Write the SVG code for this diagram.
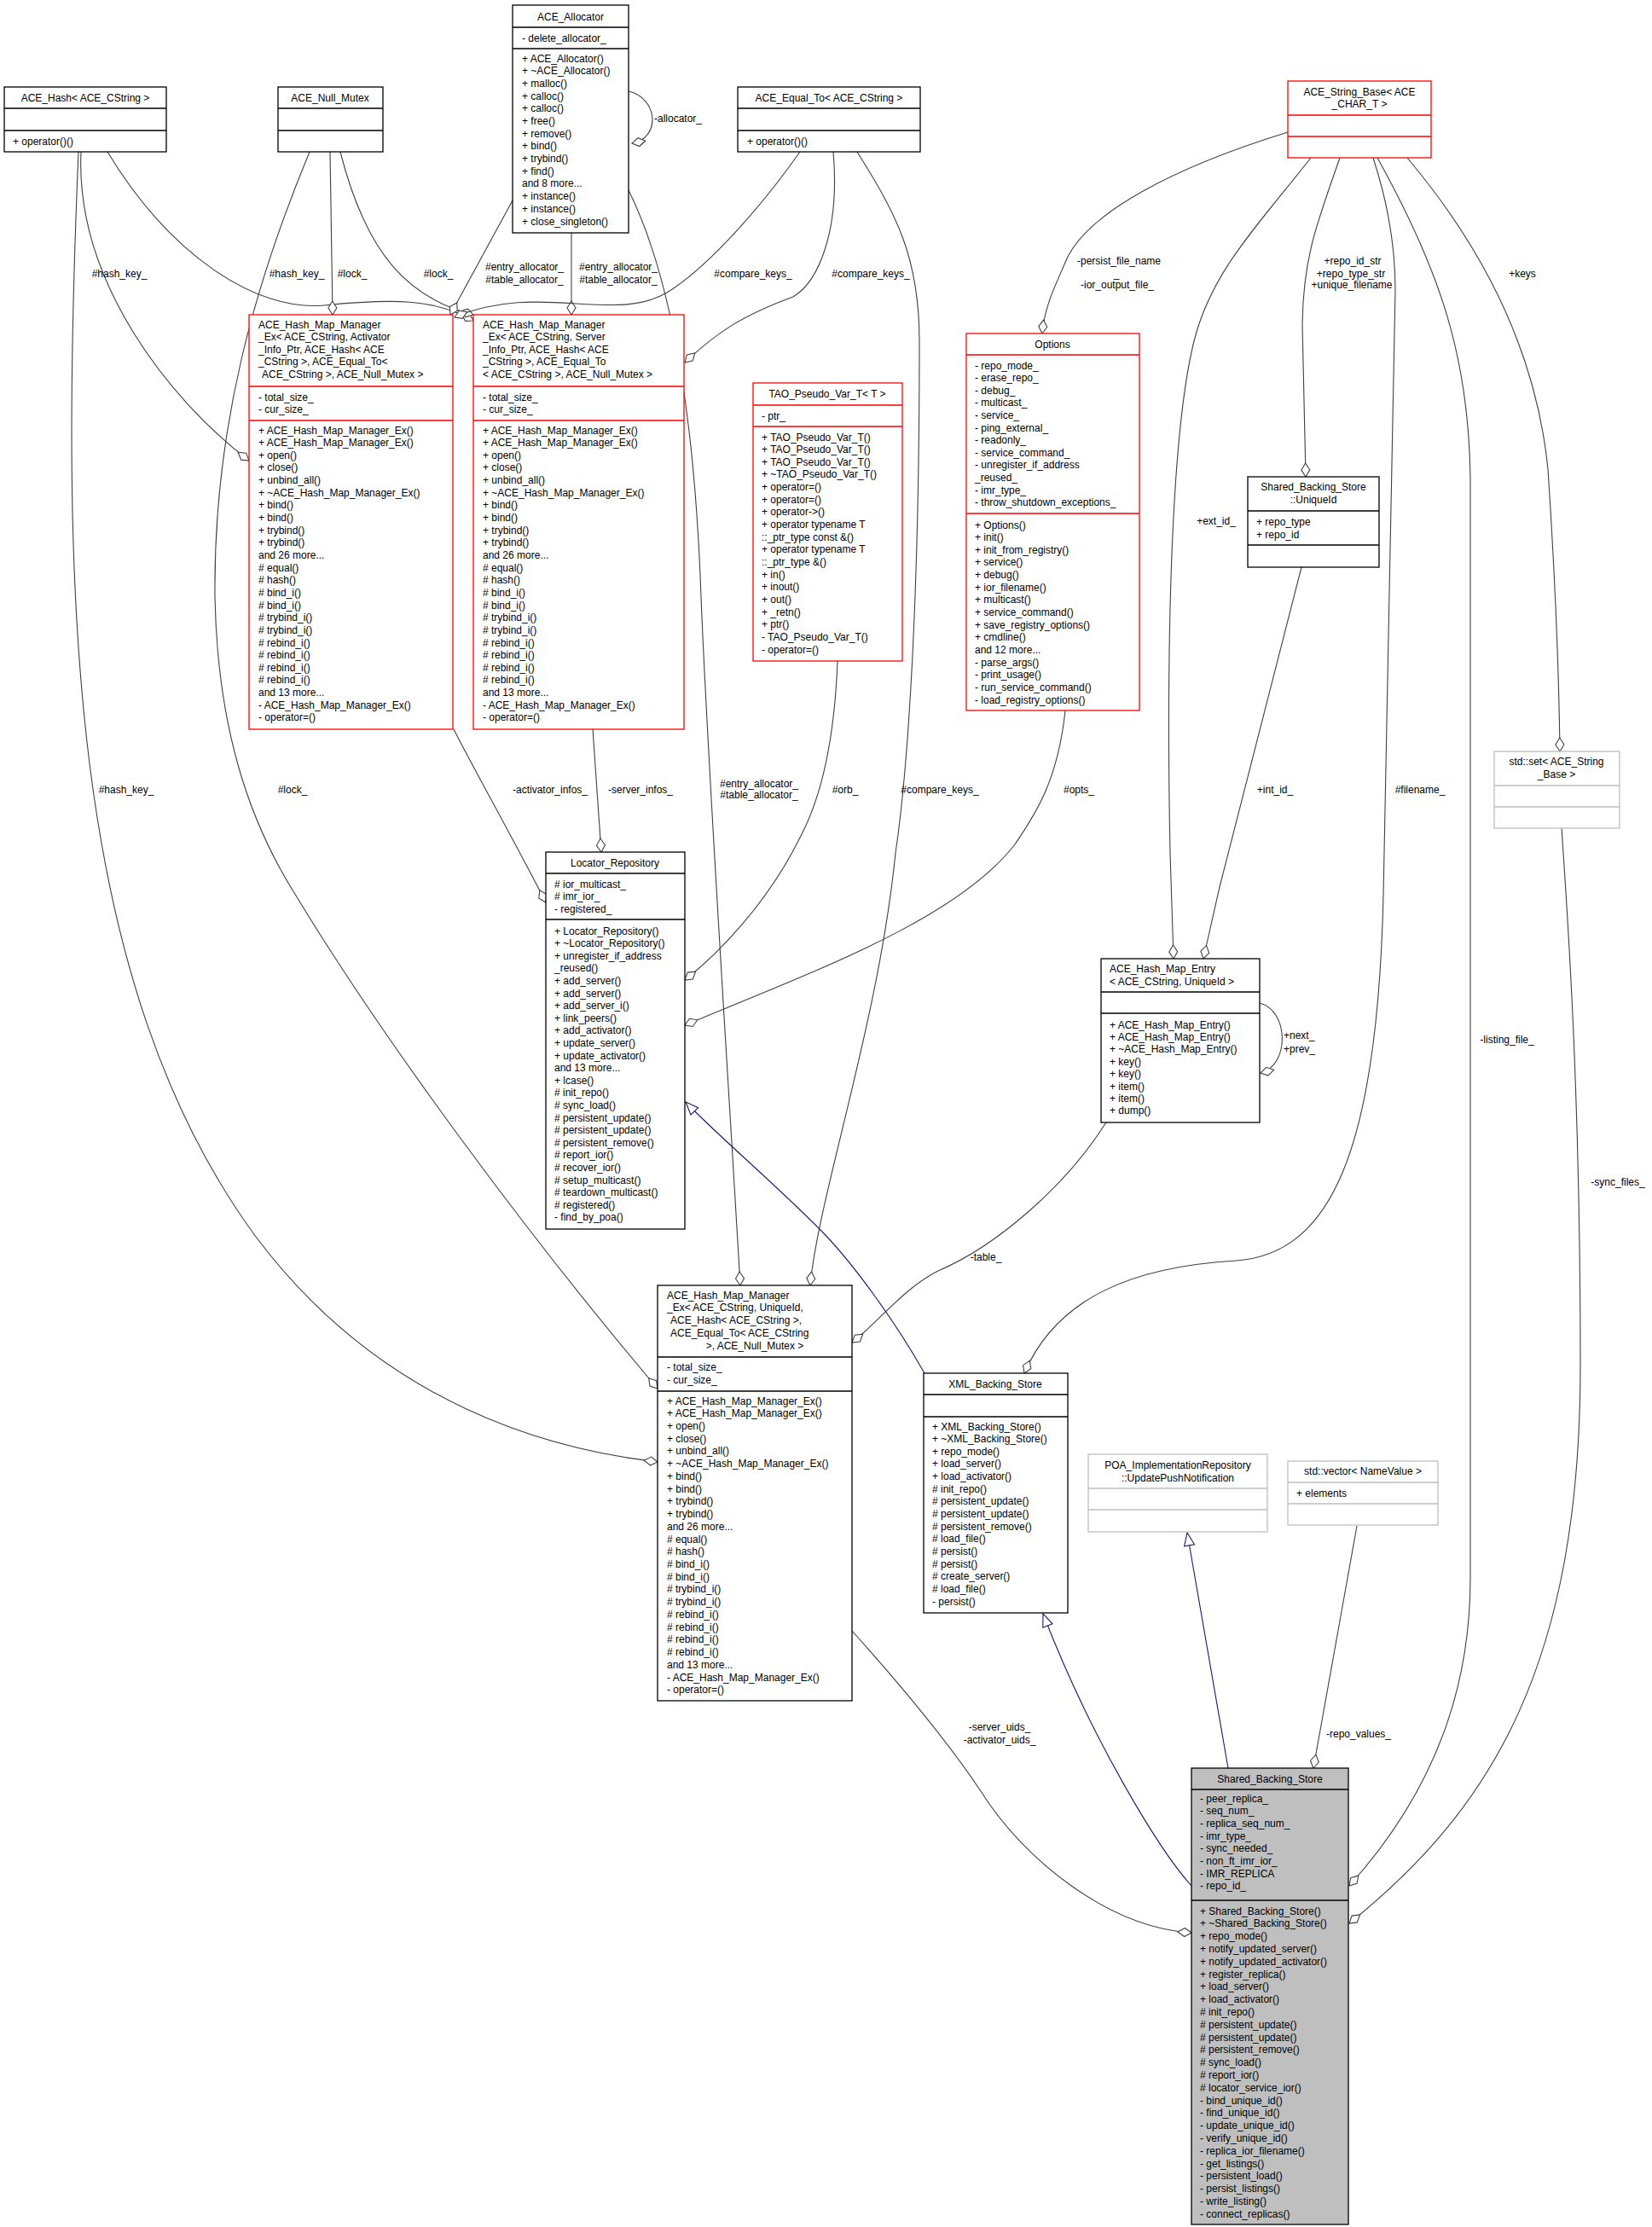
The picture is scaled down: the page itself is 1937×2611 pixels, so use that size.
<svg xmlns="http://www.w3.org/2000/svg" width="1937" height="2611" viewBox="0 0 1937 2611">
<style>
text{font-family:"Liberation Sans",Arial,sans-serif;font-size:12px;fill:#000}
.c{text-anchor:middle}
.b{fill:#fff;stroke:#000;stroke-width:1.3}
.r{fill:#fff;stroke:#f00;stroke-width:1.3}
.g{fill:#fff;stroke:#bfbfbf;stroke-width:1.3}
.gr{fill:#bfbfbf;stroke:#000;stroke-width:1.3}
.sb{stroke:#000;stroke-width:1.3;fill:none}
.sr{stroke:#f00;stroke-width:1.3;fill:none}
.sg{stroke:#bfbfbf;stroke-width:1.3;fill:none}
.e{fill:none;stroke:#404040;stroke-width:1.1;marker-end:url(#d)}
.i{fill:none;stroke:#191970;stroke-width:1.1;marker-end:url(#t)}
</style>
<defs>
<marker id="d" markerUnits="userSpaceOnUse" markerWidth="20" markerHeight="12" refX="16" refY="5" orient="auto" viewBox="-1 -1 18 12"><path d="M0,5 L8,0 L16,5 L8,10 Z" fill="#fff" stroke="#404040" stroke-width="1.1"/></marker>
<marker id="t" markerUnits="userSpaceOnUse" markerWidth="18" markerHeight="14" refX="15" refY="6" orient="auto" viewBox="-1 -1 18 14"><path d="M0,0 L15,6 L0,12 Z" fill="#fff" stroke="#191970" stroke-width="1.1"/></marker>
</defs>
<rect width="1937" height="2611" fill="#fff"/>
<g id="connectors">
<path class="e" d="M95,178 C88,330 200,470 292,540"/>
<path class="e" d="M126,178 C200,300 300,365 380,358 C460,350 510,350 555,376"/>
<path class="e" d="M92,178 C70,700 80,1150 300,1450 C450,1650 650,1700 771,1714"/>
<path class="e" d="M387,178 L390,369"/>
<path class="e" d="M399,178 C430,300 480,350 555,369"/>
<path class="e" d="M363,178 C300,330 250,500 252,700 C255,850 290,960 347,1050 C450,1220 620,1450 771,1628"/>
<path class="e" d="M737,107 C772,115 775,162 741,168"/>
<path class="e" d="M601,235 L528,369"/>
<path class="e" d="M670,273 L670,369"/>
<path class="e" d="M737,223 C790,330 815,500 822,700 C830,900 850,1200 868,1507"/>
<path class="e" d="M938,178 C880,260 820,320 782,343 C720,380 630,330 533,372"/>
<path class="e" d="M977,178 C985,270 960,330 930,348 C870,370 840,390 803,425"/>
<path class="e" d="M1005,178 C1050,250 1078,300 1078,400 C1078,700 1065,900 1050,1000 C1030,1200 960,1400 950,1507"/>
<path class="e" d="M1510,155 C1380,195 1270,250 1248,310 C1235,340 1225,360 1222,391"/>
<path class="e" d="M1537,185 C1470,270 1420,320 1400,400 C1370,520 1368,800 1372,1000 L1376,1124"/>
<path class="e" d="M1571,185 C1545,260 1528,300 1527,380 L1531,559"/>
<path class="e" d="M1610,185 C1628,240 1636,290 1636,340 L1622,1050 C1615,1350 1560,1470 1450,1478 C1330,1485 1240,1520 1201,1610"/>
<path class="e" d="M1615,185 C1690,320 1722,420 1724,560 L1724,1850 C1724,1950 1700,2080 1582,2211"/>
<path class="e" d="M1650,185 C1730,280 1800,400 1815,550 C1825,700 1828,800 1829,881"/>
<path class="e" d="M1526,665 L1430,1040 L1411,1124"/>
<path class="e" d="M1477,1176 C1512,1185 1512,1250 1478,1258"/>
<path class="e" d="M1297,1316 C1250,1390 1170,1460 1100,1490 C1060,1510 1030,1550 999,1574"/>
<path class="e" d="M1249,833 C1240,920 1210,960 1190,990 C1120,1080 950,1140 803,1202"/>
<path class="e" d="M982,775 C978,880 960,940 939,980 C900,1060 840,1120 803,1149"/>
<path class="e" d="M532,855 C560,910 600,980 640,1058"/>
<path class="e" d="M695,855 L705,999"/>
<path class="i" d="M1084,1610 C1050,1550 1000,1480 960,1440 C900,1380 840,1330 804,1292"/>
<path class="i" d="M1397,2211 C1360,2170 1280,2040 1223,1892"/>
<path class="i" d="M1440,2073 L1392,1797"/>
<path class="e" d="M1591,1789 L1540,2073"/>
<path class="e" d="M999,1912 C1060,1980 1110,2040 1150,2100 C1200,2180 1300,2260 1397,2266"/>
<path class="e" d="M1831,971 C1840,1100 1853,1300 1853,1600 C1853,1950 1750,2120 1582,2255"/>
<text class="c" x="140" y="325">#hash_key_</text>
<text class="c" x="348" y="325">#hash_key_</text>
<text class="c" x="413" y="325">#lock_</text>
<text class="c" x="514" y="325">#lock_</text>
<text class="c" x="615" y="317">#entry_allocator_</text>
<text class="c" x="615" y="332">#table_allocator_</text>
<text class="c" x="725" y="317">#entry_allocator_</text>
<text class="c" x="725" y="332">#table_allocator_</text>
<text class="c" x="883" y="325">#compare_keys_</text>
<text class="c" x="1021" y="325">#compare_keys_</text>
<text class="c" x="795" y="143">-allocator_</text>
<text class="c" x="1312" y="310">-persist_file_name</text>
<text class="c" x="1309" y="325">_</text>
<text class="c" x="1310" y="338">-ior_output_file_</text>
<text class="c" x="1586" y="310">+repo_id_str</text>
<text class="c" x="1584" y="325">+repo_type_str</text>
<text class="c" x="1585" y="338">+unique_filename</text>
<text class="c" x="1785" y="325">+keys</text>
<text class="c" x="1426" y="615">+ext_id_</text>
<text class="c" x="148" y="930">#hash_key_</text>
<text class="c" x="343" y="930">#lock_</text>
<text class="c" x="645" y="930">-activator_infos_</text>
<text class="c" x="751" y="930">-server_infos_</text>
<text class="c" x="890" y="923">#entry_allocator_</text>
<text class="c" x="890" y="936">#table_allocator_</text>
<text class="c" x="991" y="930">#orb_</text>
<text class="c" x="1102" y="930">#compare_keys_</text>
<text class="c" x="1265" y="930">#opts_</text>
<text class="c" x="1495" y="930">+int_id_</text>
<text class="c" x="1665" y="930">#filename_</text>
<text x="1505" y="1218">+next_</text>
<text x="1505" y="1234">+prev_</text>
<text class="c" x="1767" y="1223">-listing_file_</text>
<text class="c" x="1897" y="1390">-sync_files_</text>
<text class="c" x="1156" y="1478">-table_</text>
<text class="c" x="1172" y="2029">-server_uids_</text>
<text class="c" x="1172" y="2044">-activator_uids_</text>
<text class="c" x="1593" y="2037">-repo_values_</text>
</g>
<g id="ACE_Hash">
<rect class="b" x="5" y="102" width="190" height="76"/>
<path class="sb" d="M5,127 H195 M5,153 H195"/>
<text class="c" x="100" y="118.5">ACE_Hash&lt; ACE_CString &gt;</text>
<text x="15" y="169.5">+ operator()()</text>
</g>
<g id="ACE_Null_Mutex">
<rect class="b" x="326" y="102" width="123" height="76"/>
<path class="sb" d="M326,127 H449 M326,153 H449"/>
<text class="c" x="387" y="118.5">ACE_Null_Mutex</text>
</g>
<g id="ACE_Equal_To">
<rect class="b" x="865" y="102" width="214" height="76"/>
<path class="sb" d="M865,127 H1079 M865,153 H1079"/>
<text class="c" x="972" y="118.5">ACE_Equal_To&lt; ACE_CString &gt;</text>
<text x="876" y="169.5">+ operator()()</text>
</g>
<g id="ACE_Allocator">
<rect class="b" x="601" y="6" width="136" height="267"/>
<path class="sb" d="M601,32 H737 M601,57 H737"/>
<text class="c" x="669" y="23.5">ACE_Allocator</text>
<text x="612" y="48.5">- delete_allocator_</text>
<text x="612" y="72.5"><tspan x="612">+ ACE_Allocator()</tspan><tspan x="612" dy="14.7">+ ~ACE_Allocator()</tspan><tspan x="612" dy="14.7">+ malloc()</tspan><tspan x="612" dy="14.7">+ calloc()</tspan><tspan x="612" dy="14.7">+ calloc()</tspan><tspan x="612" dy="14.7">+ free()</tspan><tspan x="612" dy="14.7">+ remove()</tspan><tspan x="612" dy="14.7">+ bind()</tspan><tspan x="612" dy="14.7">+ trybind()</tspan><tspan x="612" dy="14.7">+ find()</tspan><tspan x="612" dy="14.7">and 8 more...</tspan><tspan x="612" dy="14.7">+ instance()</tspan><tspan x="612" dy="14.7">+ instance()</tspan><tspan x="612" dy="14.7">+ close_singleton()</tspan></text>
</g>
<g id="AHM_Activator">
<rect class="r" x="292" y="369" width="239" height="486"/>
<path class="sr" d="M292,453 H531 M292,493 H531"/>
<text x="303" y="384.5"><tspan x="303">ACE_Hash_Map_Manager</tspan><tspan x="303" dy="14.5">_Ex&lt; ACE_CString, Activator</tspan><tspan x="303" dy="14.5">_Info_Ptr, ACE_Hash&lt; ACE</tspan><tspan x="303" dy="14.5">_CString &gt;, ACE_Equal_To&lt;</tspan><tspan x="307" dy="14.5">ACE_CString &gt;, ACE_Null_Mutex &gt;</tspan></text>
<text x="303" y="469.5"><tspan x="303">- total_size_</tspan><tspan x="303" dy="14.5">- cur_size_</tspan></text>
<text x="303" y="508.5"><tspan x="303">+ ACE_Hash_Map_Manager_Ex()</tspan><tspan x="303" dy="14.65">+ ACE_Hash_Map_Manager_Ex()</tspan><tspan x="303" dy="14.65">+ open()</tspan><tspan x="303" dy="14.65">+ close()</tspan><tspan x="303" dy="14.65">+ unbind_all()</tspan><tspan x="303" dy="14.65">+ ~ACE_Hash_Map_Manager_Ex()</tspan><tspan x="303" dy="14.65">+ bind()</tspan><tspan x="303" dy="14.65">+ bind()</tspan><tspan x="303" dy="14.65">+ trybind()</tspan><tspan x="303" dy="14.65">+ trybind()</tspan><tspan x="303" dy="14.65">and 26 more...</tspan><tspan x="303" dy="14.65"># equal()</tspan><tspan x="303" dy="14.65"># hash()</tspan><tspan x="303" dy="14.65"># bind_i()</tspan><tspan x="303" dy="14.65"># bind_i()</tspan><tspan x="303" dy="14.65"># trybind_i()</tspan><tspan x="303" dy="14.65"># trybind_i()</tspan><tspan x="303" dy="14.65"># rebind_i()</tspan><tspan x="303" dy="14.65"># rebind_i()</tspan><tspan x="303" dy="14.65"># rebind_i()</tspan><tspan x="303" dy="14.65"># rebind_i()</tspan><tspan x="303" dy="14.65">and 13 more...</tspan><tspan x="303" dy="14.65">- ACE_Hash_Map_Manager_Ex()</tspan><tspan x="303" dy="14.65">- operator=()</tspan></text>
</g>
<g id="AHM_Server">
<rect class="r" x="555" y="369" width="247" height="486"/>
<path class="sr" d="M555,453 H802 M555,493 H802"/>
<text x="566" y="384.5"><tspan x="566">ACE_Hash_Map_Manager</tspan><tspan x="566" dy="14.5">_Ex&lt; ACE_CString, Server</tspan><tspan x="566" dy="14.5">_Info_Ptr, ACE_Hash&lt; ACE</tspan><tspan x="566" dy="14.5">_CString &gt;, ACE_Equal_To</tspan><tspan x="566" dy="14.5">&lt; ACE_CString &gt;, ACE_Null_Mutex &gt;</tspan></text>
<text x="566" y="469.5"><tspan x="566">- total_size_</tspan><tspan x="566" dy="14.5">- cur_size_</tspan></text>
<text x="566" y="508.5"><tspan x="566">+ ACE_Hash_Map_Manager_Ex()</tspan><tspan x="566" dy="14.65">+ ACE_Hash_Map_Manager_Ex()</tspan><tspan x="566" dy="14.65">+ open()</tspan><tspan x="566" dy="14.65">+ close()</tspan><tspan x="566" dy="14.65">+ unbind_all()</tspan><tspan x="566" dy="14.65">+ ~ACE_Hash_Map_Manager_Ex()</tspan><tspan x="566" dy="14.65">+ bind()</tspan><tspan x="566" dy="14.65">+ bind()</tspan><tspan x="566" dy="14.65">+ trybind()</tspan><tspan x="566" dy="14.65">+ trybind()</tspan><tspan x="566" dy="14.65">and 26 more...</tspan><tspan x="566" dy="14.65"># equal()</tspan><tspan x="566" dy="14.65"># hash()</tspan><tspan x="566" dy="14.65"># bind_i()</tspan><tspan x="566" dy="14.65"># bind_i()</tspan><tspan x="566" dy="14.65"># trybind_i()</tspan><tspan x="566" dy="14.65"># trybind_i()</tspan><tspan x="566" dy="14.65"># rebind_i()</tspan><tspan x="566" dy="14.65"># rebind_i()</tspan><tspan x="566" dy="14.65"># rebind_i()</tspan><tspan x="566" dy="14.65"># rebind_i()</tspan><tspan x="566" dy="14.65">and 13 more...</tspan><tspan x="566" dy="14.65">- ACE_Hash_Map_Manager_Ex()</tspan><tspan x="566" dy="14.65">- operator=()</tspan></text>
</g>
<g id="TAO_Pseudo_Var_T">
<rect class="r" x="883" y="449" width="175" height="326"/>
<path class="sr" d="M883,475 H1058 M883,500 H1058"/>
<text class="c" x="970" y="465.5">TAO_Pseudo_Var_T&lt; T &gt;</text>
<text x="893" y="491.5">- ptr_</text>
<text x="893" y="516.5"><tspan x="893">+ TAO_Pseudo_Var_T()</tspan><tspan x="893" dy="14.65">+ TAO_Pseudo_Var_T()</tspan><tspan x="893" dy="14.65">+ TAO_Pseudo_Var_T()</tspan><tspan x="893" dy="14.65">+ ~TAO_Pseudo_Var_T()</tspan><tspan x="893" dy="14.65">+ operator=()</tspan><tspan x="893" dy="14.65">+ operator=()</tspan><tspan x="893" dy="14.65">+ operator-&gt;()</tspan><tspan x="893" dy="14.65">+ operator typename T</tspan><tspan x="893" dy="14.65">::_ptr_type const &amp;()</tspan><tspan x="893" dy="14.65">+ operator typename T</tspan><tspan x="893" dy="14.65">::_ptr_type &amp;()</tspan><tspan x="893" dy="14.65">+ in()</tspan><tspan x="893" dy="14.65">+ inout()</tspan><tspan x="893" dy="14.65">+ out()</tspan><tspan x="893" dy="14.65">+ _retn()</tspan><tspan x="893" dy="14.65">+ ptr()</tspan><tspan x="893" dy="14.65">- TAO_Pseudo_Var_T()</tspan><tspan x="893" dy="14.65">- operator=()</tspan></text>
</g>
<g id="Options">
<rect class="r" x="1133" y="391" width="203" height="442"/>
<path class="sr" d="M1133,416 H1336 M1133,602 H1336"/>
<text class="c" x="1234" y="407.5">Options</text>
<text x="1143" y="432.5"><tspan x="1143">- repo_mode_</tspan><tspan x="1143" dy="14.6">- erase_repo_</tspan><tspan x="1143" dy="14.6">- debug_</tspan><tspan x="1143" dy="14.6">- multicast_</tspan><tspan x="1143" dy="14.6">- service_</tspan><tspan x="1143" dy="14.6">- ping_external_</tspan><tspan x="1143" dy="14.6">- readonly_</tspan><tspan x="1143" dy="14.6">- service_command_</tspan><tspan x="1143" dy="14.6">- unregister_if_address</tspan><tspan x="1143" dy="14.6">_reused_</tspan><tspan x="1143" dy="14.6">- imr_type_</tspan><tspan x="1143" dy="14.6">- throw_shutdown_exceptions_</tspan></text>
<text x="1143" y="619.5"><tspan x="1143">+ Options()</tspan><tspan x="1143" dy="14.65">+ init()</tspan><tspan x="1143" dy="14.65">+ init_from_registry()</tspan><tspan x="1143" dy="14.65">+ service()</tspan><tspan x="1143" dy="14.65">+ debug()</tspan><tspan x="1143" dy="14.65">+ ior_filename()</tspan><tspan x="1143" dy="14.65">+ multicast()</tspan><tspan x="1143" dy="14.65">+ service_command()</tspan><tspan x="1143" dy="14.65">+ save_registry_options()</tspan><tspan x="1143" dy="14.65">+ cmdline()</tspan><tspan x="1143" dy="14.65">and 12 more...</tspan><tspan x="1143" dy="14.65">- parse_args()</tspan><tspan x="1143" dy="14.65">- print_usage()</tspan><tspan x="1143" dy="14.65">- run_service_command()</tspan><tspan x="1143" dy="14.65">- load_registry_options()</tspan></text>
</g>
<g id="UniqueId">
<rect class="b" x="1463" y="559" width="154" height="106"/>
<path class="sb" d="M1463,599 H1617 M1463,639 H1617"/>
<text class="c" x="1540" y="574.5"><tspan x="1540">Shared_Backing_Store</tspan><tspan x="1540" dy="15">::UniqueId</tspan></text>
<text x="1473" y="615.5"><tspan x="1473">+ repo_type</tspan><tspan x="1473" dy="15">+ repo_id</tspan></text>
</g>
<g id="ACE_String_Base">
<rect class="r" x="1510" y="95" width="168" height="90"/>
<path class="sr" d="M1510,135 H1678 M1510,160 H1678"/>
<text class="c" x="1594" y="111.5"><tspan x="1594">ACE_String_Base&lt; ACE</tspan><tspan x="1594" dy="14.5">_CHAR_T &gt;</tspan></text>
</g>
<g id="std_set">
<rect class="g" x="1752" y="881" width="147" height="90"/>
<path class="sg" d="M1752,921 H1899 M1752,946 H1899"/>
<text class="c" x="1825" y="896.5"><tspan x="1825">std::set&lt; ACE_String</tspan><tspan x="1825" dy="15">_Base &gt;</tspan></text>
</g>
<g id="Locator_Repository">
<rect class="b" x="640" y="999" width="163" height="442"/>
<path class="sb" d="M640,1024 H803 M640,1078 H803"/>
<text class="c" x="721" y="1015.5">Locator_Repository</text>
<text x="650" y="1040.5"><tspan x="650"># ior_multicast_</tspan><tspan x="650" dy="14.5"># imr_ior_</tspan><tspan x="650" dy="14.5">- registered_</tspan></text>
<text x="650" y="1095.5"><tspan x="650">+ Locator_Repository()</tspan><tspan x="650" dy="14.6">+ ~Locator_Repository()</tspan><tspan x="650" dy="14.6">+ unregister_if_address</tspan><tspan x="650" dy="14.6">_reused()</tspan><tspan x="650" dy="14.6">+ add_server()</tspan><tspan x="650" dy="14.6">+ add_server()</tspan><tspan x="650" dy="14.6">+ add_server_i()</tspan><tspan x="650" dy="14.6">+ link_peers()</tspan><tspan x="650" dy="14.6">+ add_activator()</tspan><tspan x="650" dy="14.6">+ update_server()</tspan><tspan x="650" dy="14.6">+ update_activator()</tspan><tspan x="650" dy="14.6">and 13 more...</tspan><tspan x="650" dy="14.6">+ lcase()</tspan><tspan x="650" dy="14.6"># init_repo()</tspan><tspan x="650" dy="14.6"># sync_load()</tspan><tspan x="650" dy="14.6"># persistent_update()</tspan><tspan x="650" dy="14.6"># persistent_update()</tspan><tspan x="650" dy="14.6"># persistent_remove()</tspan><tspan x="650" dy="14.6"># report_ior()</tspan><tspan x="650" dy="14.6"># recover_ior()</tspan><tspan x="650" dy="14.6"># setup_multicast()</tspan><tspan x="650" dy="14.6"># teardown_multicast()</tspan><tspan x="650" dy="14.6"># registered()</tspan><tspan x="650" dy="14.6">- find_by_poa()</tspan></text>
</g>
<g id="ACE_Hash_Map_Entry">
<rect class="b" x="1291" y="1124" width="186" height="192"/>
<path class="sb" d="M1291,1163 H1477 M1291,1188 H1477"/>
<text x="1301" y="1139.5"><tspan x="1301">ACE_Hash_Map_Entry</tspan><tspan x="1301" dy="15">&lt; ACE_CString, UniqueId &gt;</tspan></text>
<text x="1301" y="1205.5"><tspan x="1301">+ ACE_Hash_Map_Entry()</tspan><tspan x="1301" dy="14.4">+ ACE_Hash_Map_Entry()</tspan><tspan x="1301" dy="14.4">+ ~ACE_Hash_Map_Entry()</tspan><tspan x="1301" dy="14.4">+ key()</tspan><tspan x="1301" dy="14.4">+ key()</tspan><tspan x="1301" dy="14.4">+ item()</tspan><tspan x="1301" dy="14.4">+ item()</tspan><tspan x="1301" dy="14.4">+ dump()</tspan></text>
</g>
<g id="AHM_UniqueId">
<rect class="b" x="771" y="1507" width="228" height="487"/>
<path class="sb" d="M771,1591 H999 M771,1631 H999"/>
<text x="782" y="1522.5"><tspan x="782">ACE_Hash_Map_Manager</tspan><tspan x="782" dy="14.8">_Ex&lt; ACE_CString, UniqueId,</tspan><tspan x="786" dy="14.8">ACE_Hash&lt; ACE_CString &gt;,</tspan><tspan x="786" dy="14.8">ACE_Equal_To&lt; ACE_CString</tspan></text>
<text class="c" x="885" y="1581.7">&gt;, ACE_Null_Mutex &gt;</text>
<text x="782" y="1606.5"><tspan x="782">- total_size_</tspan><tspan x="782" dy="15">- cur_size_</tspan></text>
<text x="782" y="1646.5"><tspan x="782">+ ACE_Hash_Map_Manager_Ex()</tspan><tspan x="782" dy="14.73">+ ACE_Hash_Map_Manager_Ex()</tspan><tspan x="782" dy="14.73">+ open()</tspan><tspan x="782" dy="14.73">+ close()</tspan><tspan x="782" dy="14.73">+ unbind_all()</tspan><tspan x="782" dy="14.73">+ ~ACE_Hash_Map_Manager_Ex()</tspan><tspan x="782" dy="14.73">+ bind()</tspan><tspan x="782" dy="14.73">+ bind()</tspan><tspan x="782" dy="14.73">+ trybind()</tspan><tspan x="782" dy="14.73">+ trybind()</tspan><tspan x="782" dy="14.73">and 26 more...</tspan><tspan x="782" dy="14.73"># equal()</tspan><tspan x="782" dy="14.73"># hash()</tspan><tspan x="782" dy="14.73"># bind_i()</tspan><tspan x="782" dy="14.73"># bind_i()</tspan><tspan x="782" dy="14.73"># trybind_i()</tspan><tspan x="782" dy="14.73"># trybind_i()</tspan><tspan x="782" dy="14.73"># rebind_i()</tspan><tspan x="782" dy="14.73"># rebind_i()</tspan><tspan x="782" dy="14.73"># rebind_i()</tspan><tspan x="782" dy="14.73"># rebind_i()</tspan><tspan x="782" dy="14.73">and 13 more...</tspan><tspan x="782" dy="14.73">- ACE_Hash_Map_Manager_Ex()</tspan><tspan x="782" dy="14.73">- operator=()</tspan></text>
</g>
<g id="XML_Backing_Store">
<rect class="b" x="1083" y="1610" width="169" height="281"/>
<path class="sb" d="M1083,1635 H1252 M1083,1661 H1252"/>
<text class="c" x="1167" y="1626.5">XML_Backing_Store</text>
<text x="1093" y="1676.5"><tspan x="1093">+ XML_Backing_Store()</tspan><tspan x="1093" dy="14.65">+ ~XML_Backing_Store()</tspan><tspan x="1093" dy="14.65">+ repo_mode()</tspan><tspan x="1093" dy="14.65">+ load_server()</tspan><tspan x="1093" dy="14.65">+ load_activator()</tspan><tspan x="1093" dy="14.65"># init_repo()</tspan><tspan x="1093" dy="14.65"># persistent_update()</tspan><tspan x="1093" dy="14.65"># persistent_update()</tspan><tspan x="1093" dy="14.65"># persistent_remove()</tspan><tspan x="1093" dy="14.65"># load_file()</tspan><tspan x="1093" dy="14.65"># persist()</tspan><tspan x="1093" dy="14.65"># persist()</tspan><tspan x="1093" dy="14.65"># create_server()</tspan><tspan x="1093" dy="14.65"># load_file()</tspan><tspan x="1093" dy="14.65">- persist()</tspan></text>
</g>
<g id="POA_UpdatePushNotification">
<rect class="g" x="1276" y="1705" width="210" height="91"/>
<path class="sg" d="M1276,1745 H1486 M1276,1770 H1486"/>
<text class="c" x="1381" y="1721.5"><tspan x="1381">POA_ImplementationRepository</tspan><tspan x="1381" dy="15">::UpdatePushNotification</tspan></text>
</g>
<g id="std_vector">
<rect class="g" x="1510" y="1713" width="176" height="75"/>
<path class="sg" d="M1510,1738 H1686 M1510,1763 H1686"/>
<text class="c" x="1598" y="1728.5">std::vector&lt; NameValue &gt;</text>
<text x="1520" y="1754.5">+ elements</text>
</g>
<g id="Shared_Backing_Store">
<rect class="gr" x="1397" y="2073" width="184" height="535"/>
<path class="sb" d="M1397,2098 H1581 M1397,2228 H1581"/>
<text class="c" x="1489" y="2089.5">Shared_Backing_Store</text>
<text x="1407" y="2112.5"><tspan x="1407">- peer_replica_</tspan><tspan x="1407" dy="14.7">- seq_num_</tspan><tspan x="1407" dy="14.7">- replica_seq_num_</tspan><tspan x="1407" dy="14.7">- imr_type_</tspan><tspan x="1407" dy="14.7">- sync_needed_</tspan><tspan x="1407" dy="14.7">- non_ft_imr_ior_</tspan><tspan x="1407" dy="14.7">- IMR_REPLICA</tspan><tspan x="1407" dy="14.7">- repo_id_</tspan></text>
<text x="1407" y="2244.5"><tspan x="1407">+ Shared_Backing_Store()</tspan><tspan x="1407" dy="14.8">+ ~Shared_Backing_Store()</tspan><tspan x="1407" dy="14.8">+ repo_mode()</tspan><tspan x="1407" dy="14.8">+ notify_updated_server()</tspan><tspan x="1407" dy="14.8">+ notify_updated_activator()</tspan><tspan x="1407" dy="14.8">+ register_replica()</tspan><tspan x="1407" dy="14.8">+ load_server()</tspan><tspan x="1407" dy="14.8">+ load_activator()</tspan><tspan x="1407" dy="14.8"># init_repo()</tspan><tspan x="1407" dy="14.8"># persistent_update()</tspan><tspan x="1407" dy="14.8"># persistent_update()</tspan><tspan x="1407" dy="14.8"># persistent_remove()</tspan><tspan x="1407" dy="14.8"># sync_load()</tspan><tspan x="1407" dy="14.8"># report_ior()</tspan><tspan x="1407" dy="14.8"># locator_service_ior()</tspan><tspan x="1407" dy="14.8">- bind_unique_id()</tspan><tspan x="1407" dy="14.8">- find_unique_id()</tspan><tspan x="1407" dy="14.8">- update_unique_id()</tspan><tspan x="1407" dy="14.8">- verify_unique_id()</tspan><tspan x="1407" dy="14.8">- replica_ior_filename()</tspan><tspan x="1407" dy="14.8">- get_listings()</tspan><tspan x="1407" dy="14.8">- persistent_load()</tspan><tspan x="1407" dy="14.8">- persist_listings()</tspan><tspan x="1407" dy="14.8">- write_listing()</tspan><tspan x="1407" dy="14.8">- connect_replicas()</tspan></text>
</g>
</svg>
